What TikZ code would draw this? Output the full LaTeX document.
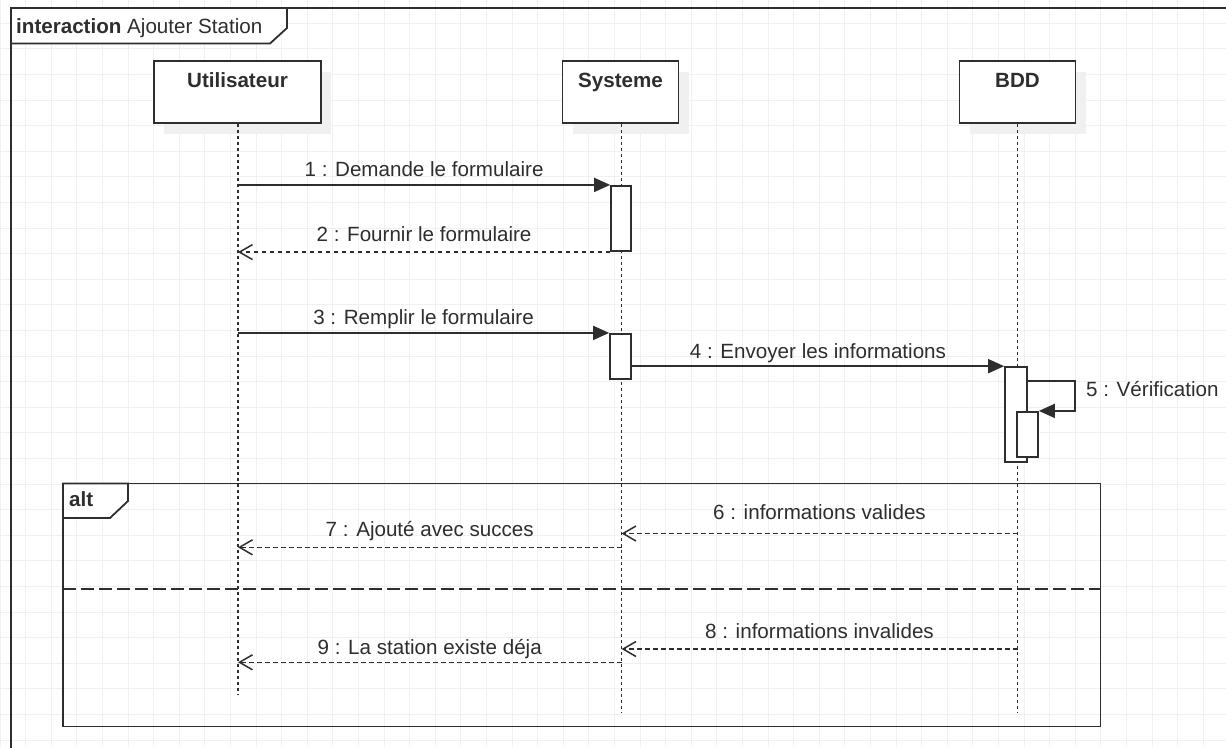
\documentclass[tikz,border=0pt]{standalone}
\usepackage{fontspec}
\setmainfont{Liberation Sans}
\usetikzlibrary{arrows.meta,shadows}
\definecolor{ink}{HTML}{2E2E2E}
\definecolor{gridc}{HTML}{F0F0F0}
\definecolor{shade}{HTML}{F0F0F0}
\tikzset{
  x=1pt, y=-1pt,
  txt/.style={font=\fontsize{20.6}{24}\selectfont, text=ink, inner sep=0pt},
  msglabel/.style={txt, anchor=base},
  gridline/.style={draw=gridc, line width=1pt},
  frameline/.style={draw=ink, line width=1.8pt},
  head/.style={txt, font=\fontsize{20.6}{24}\selectfont\bfseries, draw=ink, fill=white,
    line width=1.8pt, anchor=north, inner xsep=0pt, inner ysep=0pt,
    text height=27pt, text depth=35pt,
    drop shadow={shadow xshift=10pt, shadow yshift=-11pt, fill=shade, opacity=1}},
  lifeline/.style={draw=ink, line width=1.7pt, dash pattern=on 3pt off 3pt},
  actbar/.style={draw=ink, fill=white, line width=1.7pt, inner sep=0pt},
  sync/.style={draw=ink, line width=1.7pt, -{Triangle[length=16pt,width=14pt]}},
  reply/.style={draw=ink, line width=1.5pt, dash pattern=on 4.5pt off 3.5pt,
    -{Straight Barb[length=13pt,width=15pt,line width=1.5pt]}},
  separator/.style={draw=ink, line width=1.7pt, dash pattern=on 13pt off 5pt},
}
\begin{document}
\begin{tikzpicture}
\useasboundingbox (0,0) rectangle (1226,747);
\fill[white] (0,0) rectangle (1226,747);

% background grid
\foreach \i in {0,...,48} \draw[gridline] (\i*25.6,0) -- (\i*25.6,747);
\foreach \k in {1,...,29} \draw[gridline] (0,-2.4+\k*25.6) -- (1226,-2.4+\k*25.6);

% interaction frame and its tab
\draw[frameline] (11,760) -- (11,8) -- (1240,8);
\filldraw[frameline, fill=white] (11,8) -- (287,8) -- (287,28) -- (270,43.5) -- (11,43.5) -- cycle;
\node[txt, anchor=base west] (ftitle) at (16,33) {\textbf{interaction} Ajouter Station};

% lifeline heads
\node[head, minimum width=167pt] (u) at (237.5,60) {Utilisateur};
\node[head, minimum width=116pt] (s) at (620.5,60) {Systeme};
\node[head, minimum width=116pt] (d) at (1017.5,60) {BDD};

% lifeline ends
\coordinate (uend) at (238,695);
\coordinate (send) at (621.5,712);
\coordinate (dend) at (1017.5,712);
\draw[lifeline] (u.south -| uend) -- (uend);
\draw[lifeline] (s.south -| send) -- (send);
\draw[lifeline] (d.south -| dend) -- (dend);

% combined fragment "alt"
\draw[frameline] (63,483.5) rectangle (1100.5,726.5);
\filldraw[frameline, fill=white] (63,483.5) -- (128,483.5) -- (128,501) -- (110,518) -- (63,518) -- cycle;
\node[txt, anchor=base west] (alttag) at (69,506.5) {\textbf{alt}};
\draw[separator] (63,588.7) -- (1100.5,588.7);

% activation bars
\node[actbar, minimum width=20pt, minimum height=65.5pt] (a1) at (621,218.5) {};
\node[actbar, minimum width=21pt, minimum height=45.5pt] (a2) at (620.5,356.5) {};
\node[actbar, minimum width=22pt, minimum height=95pt] (b1) at (1016,414.5) {};
\node[actbar, minimum width=21pt, minimum height=45.5pt] (b2) at (1027.5,434.5) {};

% message rows
\coordinate (y5) at (0,381);
\coordinate (y6) at (0,533.5);
\coordinate (y7) at (0,547.3);
\coordinate (y8) at (0,649);
\coordinate (y9) at (0,662.3);
\coordinate (loop) at (1075,381);

% messages
\draw[sync] (uend |- a1.north) -- node[msglabel, yshift=8.8pt] (l1) {1 : Demande le formulaire} (a1.north west);
\draw[reply] (a1.south west) -- node[msglabel, yshift=10.5pt] (l2) {2 : Fournir le formulaire} (uend |- a1.south);
\draw[sync] (uend |- a2.north) -- node[msglabel, yshift=8.5pt] (l3) {3 : Remplir le formulaire} (a2.north west);
\draw[sync] (a2.east |- b1.north) -- node[msglabel, yshift=8pt] (l4) {4 : Envoyer les informations} (b1.north west);
\draw[sync] (b1.east |- y5) -- (loop) -- (loop |- b2.north) -- (b2.north east);
\node[txt, anchor=base west] (l5) at (1086,396.7) {5 : Vérification};
\draw[reply] (dend |- y6) -- node[msglabel, yshift=14pt] (l6) {6 : informations valides} (send |- y6);
\draw[reply] (send |- y7) -- node[msglabel, yshift=11pt] (l7) {7 : Ajouté avec succes} (uend |- y7);
\draw[reply] (dend |- y8) -- node[msglabel, yshift=11pt] (l8) {8 : informations invalides} (send |- y8);
\draw[reply] (send |- y9) -- node[msglabel, yshift=8.3pt] (l9) {9 : La station existe déja} (uend |- y9);
\end{tikzpicture}
\end{document}
